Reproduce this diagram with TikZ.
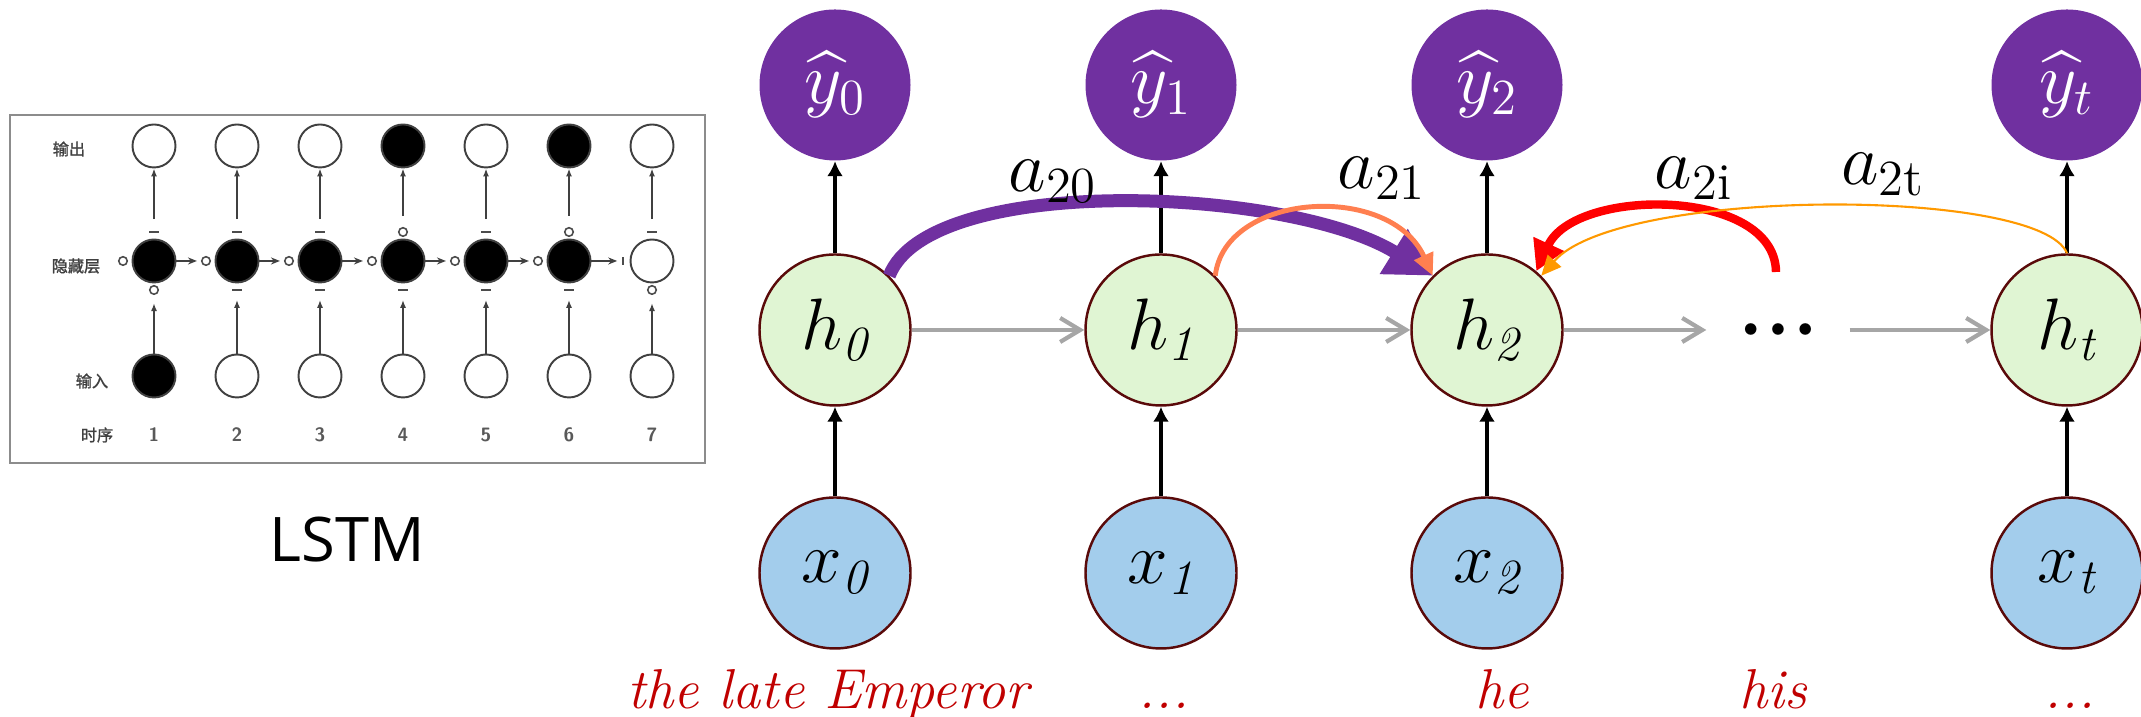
\documentclass[tikz,border=0pt]{standalone}
\usepackage{amsmath, amssymb}
\usepackage{fontspec}
\newfontfamily\cjk[FakeBold=1.5]{Noto Sans CJK SC}
\newfontfamily\labelfont{Open Sans}
\usepackage{tikz}
\usetikzlibrary{
  arrows.meta,
  positioning,
  calc
}
\definecolor{attnpurple}{HTML}{7030A0}
\definecolor{hidgreen}{HTML}{E0F5D3}
\definecolor{inblue}{HTML}{A3CDEC}
\definecolor{rimred}{HTML}{5A0A0A}
\definecolor{flowgray}{HTML}{A6A6A6}
\definecolor{wordred}{HTML}{C00000}
\definecolor{attncoral}{HTML}{FF7F50}
\definecolor{attnorange}{HTML}{FF9900}
\definecolor{panelgray}{HTML}{8C8C8C}
\tikzset{>=latex}
\tikzset{
  % the attention network
  unit/.style={circle, minimum size=1.51cm, inner sep=0pt,
    font=\fontsize{20}{24}\selectfont},
  outnode/.style={unit, fill=attnpurple, text=white},
  hidnode/.style={unit, fill=hidgreen, draw=rimred, line width=0.7pt},
  innode/.style={unit, fill=inblue, draw=rimred, line width=0.7pt},
  feed/.style={-{Latex[length=0.15cm,width=0.16cm]}, line width=0.9pt},
  flow/.style={-{Straight Barb[length=0.2cm,width=0.24cm]}, draw=flowgray,
    line width=1.2pt},
  weight/.style={font=\fontsize{21}{24}\selectfont},
  word/.style={anchor=base, text=wordred, font=\fontsize{16}{19}\selectfont\itshape},
  % the small lstm panel
  cell/.style={circle, minimum size=0.43cm, inner sep=0pt, draw=black!75,
    line width=0.55pt},
  opencell/.style={cell, fill=white},
  fullcell/.style={cell, fill=black},
  gatering/.style={circle, minimum size=0.085cm, inner sep=0pt, draw=black!70,
    line width=0.45pt},
  gatebar/.style={rectangle, minimum width=0.1cm, minimum height=0.022cm,
    inner sep=0pt, fill=black!70},
  gatestop/.style={rectangle, minimum width=0.022cm, minimum height=0.08cm,
    inner sep=0pt, fill=black!70},
  lstmarrow/.style={-{Latex[length=0.08cm,width=0.06cm]}, draw=black!75,
    line width=0.5pt},
  stepline/.style={-{Stealth[length=0.09cm,width=0.07cm]}, draw=black!75,
    line width=0.5pt},
  rowname/.style={font=\cjk\fontsize{4.6}{5}\selectfont, text=black!75},
  stepnum/.style={font=\sffamily\bfseries\fontsize{5.5}{6}\selectfont, text=black!65}
}

\begin{document}
\begin{tikzpicture}
  \useasboundingbox (0,0) rectangle (21.41,7.17);

  % lstm panel
  \draw[panelgray, line width=0.8pt] (0.10,2.54) rectangle (7.05,6.02);
  \node[rowname] (rout) at (0.69,5.68) {输出};
  \node[rowname] (rhid) at (0.76,4.51) {隐藏层};
  \node[rowname] (rin) at (0.92,3.36) {输入};
  \node[rowname] (rstep) at (0.97,2.82) {时序};
  \foreach \i/\so/\sh/\si/\up/\dn in {1/opencell/fullcell/fullcell/gatebar/gatering,
      2/opencell/fullcell/opencell/gatebar/gatebar,
      3/opencell/fullcell/opencell/gatebar/gatebar,
      4/fullcell/fullcell/opencell/gatering/gatebar,
      5/opencell/fullcell/opencell/gatebar/gatebar,
      6/fullcell/fullcell/opencell/gatering/gatebar,
      7/opencell/opencell/opencell/gatebar/gatering}{
    \node[\so] (lo\i) at ({0.71+0.83*\i},5.71) {};
    \node[\sh] (lh\i) at ({0.71+0.83*\i},4.56) {};
    \node[\si] (li\i) at ({0.71+0.83*\i},3.41) {};
    \node[\up] (up\i) at ({0.71+0.83*\i},4.85) {};
    \node[\dn] (dn\i) at ({0.71+0.83*\i},4.27) {};
    \node[stepnum] (ln\i) at ({0.71+0.83*\i},2.82) {\i};
    \draw[lstmarrow, shorten >=0.08cm] (li\i) -- (dn\i);
    \draw[lstmarrow, shorten <=0.11cm] (up\i) -- (lo\i);
  }
  \foreach \i in {1,...,6}
    \node[gatering] (lg\i) at ({0.40+0.83*\i},4.56) {};
  \node[gatestop] (lg7) at (6.23,4.56) {};
  \foreach \i [evaluate=\i as \j using int(\i+1)] in {1,...,6}
    \draw[stepline, shorten >=0.04cm] (lh\i) -- (lg\j);
  \node[font=\labelfont\fontsize{17.5}{20}\selectfont, inner sep=0pt] (lstmname)
    at (3.47,1.77) {LSTM};

  % attention network
  \foreach \s/\px in {0/8.35, 1/11.61, 2/14.87, t/20.67}{
    \node[outnode] (y\s) at (\px,6.32) {$\widehat{y}_\s$};
    \node[hidnode] (h\s) at (\px,3.87) {$h_{\mathit{\s}}$};
    \node[innode] (x\s) at (\px,1.44) {$x_{\mathit{\s}}$};
    \draw[feed] (x\s) -- (h\s);
    \draw[feed] (h\s) -- (y\s);
  }
  \node[minimum width=1.42cm, inner sep=0pt, font=\fontsize{8}{8}\selectfont]
    (hdots) at (17.78,3.87) {{$\bullet$}\hspace{3.5pt}{$\bullet$}\hspace{3.5pt}{$\bullet$}};
  \draw[flow] (h0) -- (h1);
  \draw[flow] (h1) -- (h2);
  \draw[flow] (h2) -- (hdots);
  \draw[flow] (hdots) -- (ht);

  % attention weights
  \coordinate (hi) at (17.76,4.45);
  \draw[attnpurple, line width=3.7pt, -{Triangle[length=0.46cm,width=0.5cm]}]
    (h0.45) .. controls (9.3,5.45) and (12.9,5.3) .. (h2.135);
  \draw[attncoral, line width=1.4pt, -{Triangle[length=0.22cm,width=0.2cm]}]
    (h1.45) .. controls (12.25,5.25) and (13.9,5.35) .. (h2.135);
  \draw[red, line width=2.4pt, -{Triangle[length=0.3cm,width=0.32cm]}]
    (hi) .. controls (17.75,5.3) and (15.75,5.3) .. (h2.50);
  \draw[attnorange, line width=0.6pt, -{Triangle[length=0.2cm,width=0.18cm]}]
    (ht.north) .. controls (20.4,5.3) and (16.2,5.3) .. (h2.45);
  \node[weight] (a20) at (10.53,5.36) {$a_{20}$};
  \node[weight] (a21) at (13.82,5.39) {$a_{21}$};
  \node[weight] (a2i) at (16.94,5.39) {$a_{2\mathrm{i}}$};
  \node[weight] (a2t) at (18.83,5.42) {$a_{2\mathrm{t}}$};

  % words
  \foreach \px/\w [count=\k] in {8.28/the late Emperor, 11.64/.{}.{}., 15.02/he,
      17.73/his, 20.70/.{}.{}.}
    \node[word] (w\k) at (\px,0.08) {\w};
\end{tikzpicture}
\end{document}
